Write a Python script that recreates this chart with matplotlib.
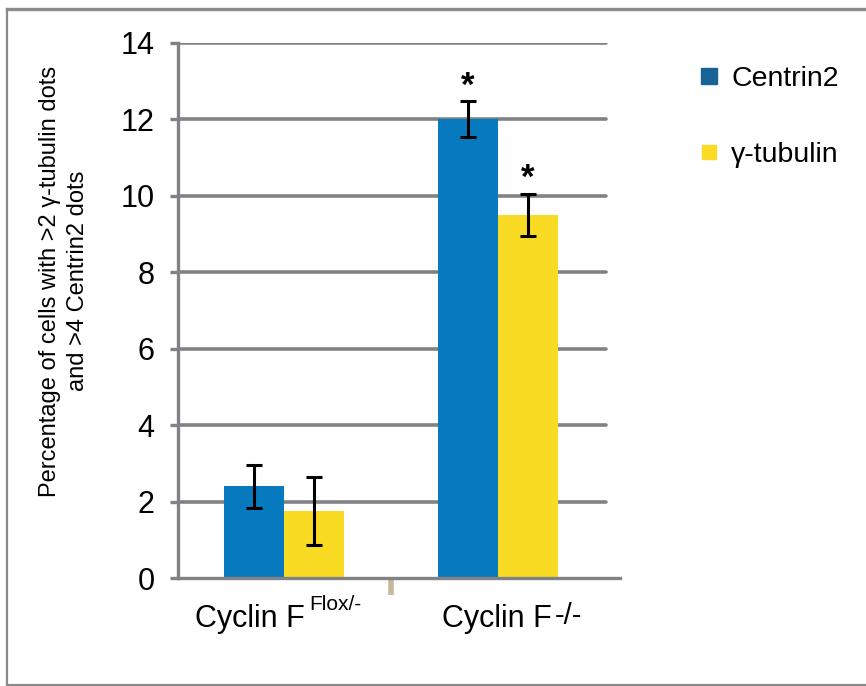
import matplotlib
matplotlib.use('Agg')
import matplotlib.pyplot as plt
from matplotlib.lines import Line2D
import numpy as np

plt.rcParams['font.family'] = ['Liberation Sans', 'DejaVu Sans']

# data
groups = ['Cyclin F', 'Cyclin F']
group_sup = ['Flox/-', '-/-']
series = ['Centrin2', 'γ-tubulin']
centrin2 = [2.4, 12.0]
centrin2_err = [0.57, 0.47]
gtubulin = [1.75, 9.5]
gtubulin_err = [0.88, 0.56]
stars = [[False, True], [False, True]]
yticks = [0, 2, 4, 6, 8, 10, 12, 14]

bar_colors = ['#0779bf', '#fadb23']
legend_colors = ['#176296', '#fddb25']
grid_col = '#808285'

fig = plt.figure(figsize=(8.66, 6.86), dpi=100)
ax = fig.add_axes([178 / 866, 1 - 578 / 686, 442 / 866, 535 / 686])

x = np.arange(len(groups))
w = 0.28
vals = [centrin2, gtubulin]
errs = [centrin2_err, gtubulin_err]

for t in yticks[1:]:
    ax.axhline(t, xmin=0, xmax=0.968, color=grid_col, lw=2.6,
               solid_capstyle='round', zorder=1)

for i in range(2):
    xs = x + (i - 0.5) * w
    ax.bar(xs, vals[i], width=w, color=bar_colors[i], zorder=2)
    ax.errorbar(xs, vals[i], yerr=errs[i], fmt='none', ecolor='black',
                elinewidth=2.2, capsize=6, capthick=2.2, zorder=3)
    for j in range(len(groups)):
        if stars[i][j]:
            ax.annotate('*', (xs[j], vals[i][j] + errs[i][j]),
                        xytext=(0, -1), textcoords='offset points',
                        ha='center', va='bottom', fontsize=25,
                        fontweight='bold')

ax.set_xlim(-0.495, 1.57)
ax.set_ylim(0, 14)
ax.set_yticks(yticks)
ax.tick_params(axis='y', direction='out', length=6, width=2.4,
               color=grid_col, labelsize=22, pad=11)
ax.set_xticks([0.5])
ax.set_xticklabels([''])
ax.tick_params(axis='x', direction='out', length=12, width=4,
               color='#c8b89a')

for s in ['top', 'right']:
    ax.spines[s].set_visible(False)
for s in ['left', 'bottom']:
    ax.spines[s].set_color(grid_col)
    ax.spines[s].set_linewidth(2.4)

# category labels with raised suffix
name_dx = [-0.16, -0.005]
sup_dx = [0.12, 0.266]
sup_y = [-0.032, -0.044]
sup_size = [15, 21]
for j in range(len(groups)):
    ax.text(x[j] + name_dx[j], -0.048, groups[j], transform=ax.get_xaxis_transform(),
            ha='center', va='top', fontsize=22)
    ax.text(x[j] + sup_dx[j], sup_y[j], group_sup[j],
            transform=ax.get_xaxis_transform(), ha='left', va='top',
            fontsize=sup_size[j])

fig.text(64 / 866, 1 - 281 / 686,
         'Percentage of cells with >2 γ-tubulin dots\nand >4 Centrin2 dots',
         rotation=90, ha='center', va='center', fontsize=17,
         multialignment='center', linespacing=1.3)

handles = [Line2D([], [], marker='s', ls='none', color=legend_colors[0], markersize=12),
           Line2D([], [], marker='s', ls='none', color=legend_colors[1], markersize=10)]
fig.legend(handles, series, loc='upper left', bbox_to_anchor=(683 / 866, 1 - 55 / 686),
           frameon=False, fontsize=20.5, labelspacing=1.75, handletextpad=0.3,
           handlelength=1.0, borderaxespad=0)

# outer frame
fig.add_artist(Line2D([7 / 866, 7 / 866], [1 - 9 / 686, 1 - 685 / 686],
                      transform=fig.transFigure, color='#8a8a8a', lw=1.6))
fig.add_artist(Line2D([7 / 866, 1], [1 - 9 / 686, 1 - 9 / 686],
                      transform=fig.transFigure, color='#8a8a8a', lw=2.4))
fig.add_artist(Line2D([7 / 866, 1], [1 - 685 / 686, 1 - 685 / 686],
                      transform=fig.transFigure, color='#8a8a8a', lw=1.6))

fig.savefig('out.png', dpi=100)
